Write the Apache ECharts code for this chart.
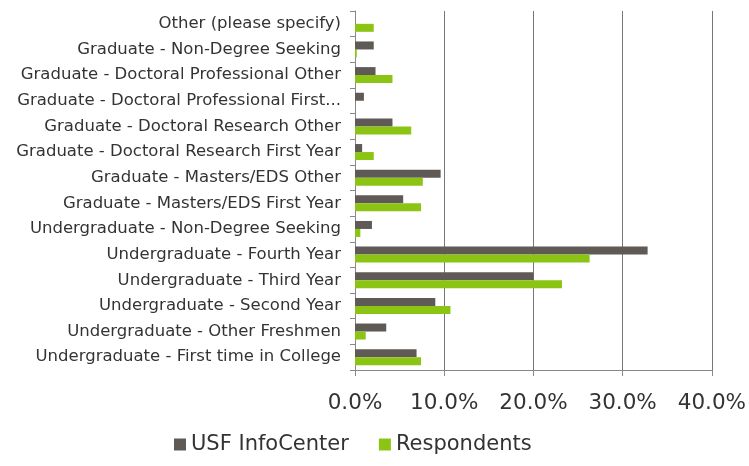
<!DOCTYPE html>
<html>
<head>
<meta charset="utf-8">
<script src="https://cdn.jsdelivr.net/npm/echarts@6/dist/echarts.min.js"></script>
<style>
  html, body { margin: 0; padding: 0; background: #fff; }
  #chart { width: 749px; height: 466px; }
</style>
</head>
<body>
<div id="chart"></div>
<script>
// Student classification, bottom to top
const categories = [
  'Undergraduate - First time in College',
  'Undergraduate - Other Freshmen',
  'Undergraduate - Second Year',
  'Undergraduate - Third Year',
  'Undergraduate - Fourth Year',
  'Undergraduate - Non-Degree Seeking',
  'Graduate - Masters/EDS First Year',
  'Graduate - Masters/EDS Other',
  'Graduate - Doctoral Research First Year',
  'Graduate - Doctoral Research Other',
  'Graduate - Doctoral Professional First...',
  'Graduate - Doctoral Professional Other',
  'Graduate - Non-Degree Seeking',
  'Other (please specify)'
];
// Share of students, in percent
const infoCenter  = [6.9, 3.5, 9.0, 20.0, 32.8, 1.9, 5.4, 9.6, 0.8, 4.2, 1.0, 2.3, 2.1, 0];
const respondents = [7.4, 1.2, 10.7, 23.2, 26.3, 0.6, 7.4, 7.6, 2.1, 6.3, 0, 4.2, 0.2, 2.1];
const xTicks = [0, 10, 20, 30, 40];

const font = '"DejaVu Sans", sans-serif';
const chart = echarts.init(document.getElementById('chart'));
chart.setOption({
  animation: false,
  textStyle: { fontFamily: font },
  grid: { left: 355, right: 36, top: 11, bottom: 96, containLabel: false },
  legend: {
    bottom: 6,
    left: 169,
    itemWidth: 12, itemHeight: 12, itemGap: 30,
    icon: 'rect',
    textStyle: { fontSize: 21, color: '#333', fontFamily: font },
    data: ['USF InfoCenter', 'Respondents']
  },
  xAxis: {
    type: 'value',
    min: xTicks[0], max: xTicks[xTicks.length - 1], interval: 10,
    axisLine: { show: true, lineStyle: { color: '#888' } },
    axisTick: { show: true, length: 6, lineStyle: { color: '#888' } },
    splitLine: { show: true, lineStyle: { color: '#777', width: 1 } },
    axisLabel: { fontSize: 21.5, color: '#333', margin: 22, formatter: v => v.toFixed(1) + '%' }
  },
  yAxis: {
    type: 'category',
    data: categories,
    axisLine: { show: true, lineStyle: { color: '#888' } },
    axisTick: { show: true, length: 5, lineStyle: { color: '#888' } },
    axisLabel: { fontSize: 16.5, color: '#333', margin: 14 }
  },
  series: [
    {
      name: 'USF InfoCenter', type: 'bar', data: infoCenter,
      itemStyle: { color: '#5f5a56' },
      barWidth: 8, barGap: '0%'
    },
    {
      name: 'Respondents', type: 'bar', data: respondents,
      itemStyle: { color: '#8cc414' },
      barWidth: 8
    }
  ]
});
</script>
</body>
</html>
